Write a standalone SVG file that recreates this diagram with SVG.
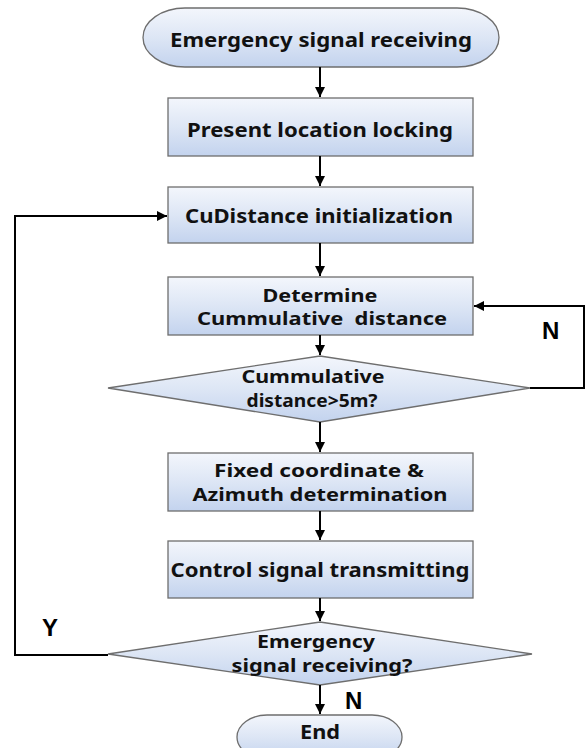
<svg xmlns="http://www.w3.org/2000/svg" width="586" height="748" viewBox="0 0 586 748">
<defs>
<linearGradient id="g" x1="0" y1="0" x2="0" y2="1">
<stop offset="0" stop-color="#f3f6fc"/>
<stop offset="0.5" stop-color="#dde6f5"/>
<stop offset="1" stop-color="#c3d3ee"/>
</linearGradient>
<marker id="ah" viewBox="0 0 10 10" refX="10" refY="5" markerWidth="5" markerHeight="5" orient="auto" markerUnits="strokeWidth">
<path d="M0,0 L10,5 L0,10 z" fill="#000"/>
</marker>
</defs>
<style>
.n{fill:url(#g);stroke:#6e6e6e;stroke-width:1.3}
.t{font-family:"Noto Sans","Open Sans",sans-serif;font-weight:bold;font-size:20px;fill:#111;text-anchor:middle}
.s{font-size:18.5px}
.l{font-family:"Liberation Sans",Arial,sans-serif;font-weight:bold;font-size:24px;fill:#000}
.c{fill:none;stroke:#000;stroke-width:2;marker-end:url(#ah)}
</style>
<rect width="586" height="748" fill="#fff"/>
<g id="start"><rect class="n" x="143" y="8" width="356" height="59" rx="42" ry="29.5"/><text class="t" x="321" y="47" textLength="302" lengthAdjust="spacingAndGlyphs">Emergency signal receiving</text></g>
<g id="lock"><rect class="n" x="168" y="98" width="305" height="58"/><text class="t" x="320" y="137" textLength="266" lengthAdjust="spacingAndGlyphs">Present location locking</text></g>
<g id="init"><rect class="n" x="168" y="187" width="305" height="56"/><text class="t" x="319" y="223" textLength="268" lengthAdjust="spacingAndGlyphs">CuDistance initialization</text></g>
<g id="determine"><rect class="n" x="168" y="277" width="305" height="58"/><text class="t s" x="320" y="302" textLength="115" lengthAdjust="spacingAndGlyphs">Determine</text><text class="t s" x="322" y="325" textLength="250" lengthAdjust="spacingAndGlyphs" xml:space="preserve">Cummulative  distance</text></g>
<g id="check5m"><polygon class="n" points="320,356 530,388 320,422 108,388"/><text class="t s" x="313" y="383" textLength="143" lengthAdjust="spacingAndGlyphs">Cummulative</text><text class="t s" x="312" y="407" textLength="131" lengthAdjust="spacingAndGlyphs">distance&gt;5m?</text></g>
<g id="fixed"><rect class="n" x="168" y="453" width="305" height="58"/><text class="t s" x="319" y="477" textLength="210" lengthAdjust="spacingAndGlyphs">Fixed coordinate &amp;</text><text class="t s" x="320" y="501" textLength="255" lengthAdjust="spacingAndGlyphs">Azimuth determination</text></g>
<g id="transmit"><rect class="n" x="168" y="541" width="305" height="57"/><text class="t" x="320" y="577" textLength="299" lengthAdjust="spacingAndGlyphs">Control signal transmitting</text></g>
<g id="check-signal"><polygon class="n" points="320,622 532,654 320,685 108,654"/><text class="t s" x="316" y="648" textLength="118" lengthAdjust="spacingAndGlyphs">Emergency</text><text class="t s" x="322" y="672" textLength="181" lengthAdjust="spacingAndGlyphs">signal receiving?</text></g>
<g id="end"><rect class="n" x="237" y="715" width="165" height="44" rx="30" ry="22"/><text class="t" x="320" y="739" textLength="40" lengthAdjust="spacingAndGlyphs">End</text></g>
<g id="connectors">
<path class="c" d="M320,67 V97"/>
<path class="c" d="M320,156 V186"/>
<path class="c" d="M320,243 V276"/>
<path class="c" d="M320,335 V355"/>
<path class="c" d="M320,422 V452"/>
<path class="c" d="M320,511 V540"/>
<path class="c" d="M320,598 V621"/>
<path class="c" d="M320,685 V714"/>
<path class="c" d="M530,388 H584 V306 H474"/>
<path class="c" d="M108,655 H15 V216 H167"/>
</g>
<g id="labels">
<text class="l" x="542" y="339">N</text>
<text class="l" x="42" y="636">Y</text>
<text class="l" x="345" y="709">N</text>
</g>
</svg>
